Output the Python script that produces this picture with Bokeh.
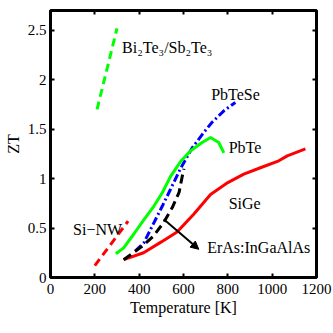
from bokeh.plotting import figure
from bokeh.models import LinearAxis, Arrow, NormalHead, Range1d, FixedTicker, ColumnDataSource
from bokeh.core.properties import value
from bokeh.embed import file_html
from bokeh.resources import INLINE

# ---- data ----
bi_T = [210, 300]
bi_ZT = [1.70, 2.52]

sinw_T = [200, 350]
sinw_ZT = [0.12, 0.57]

pbte_T = [295, 330, 376, 420, 466, 505, 541, 586, 631, 684, 722, 759, 782]
pbte_ZT = [0.24, 0.30, 0.44, 0.58, 0.72, 0.86, 1.02, 1.17, 1.28, 1.365, 1.415, 1.365, 1.26]

pbtese_T = [383, 421, 459, 504, 541, 586, 639, 691, 729, 782, 812, 834]
pbtese_ZT = [0.27, 0.35, 0.52, 0.72, 0.89, 1.10, 1.31, 1.465, 1.57, 1.685, 1.735, 1.77]

eras_T = [330, 410, 465, 510, 550, 580, 595, 602]
eras_ZT = [0.18, 0.31, 0.42, 0.555, 0.71, 0.86, 1.03, 1.10]

sige_T = [330, 420, 500, 571, 646, 722, 800, 872, 947, 1030, 1068, 1150]
sige_ZT = [0.18, 0.25, 0.36, 0.46, 0.64, 0.84, 0.96, 1.045, 1.11, 1.18, 1.23, 1.30]

arrow_T = [511, 669]
arrow_ZT = [0.59, 0.285]

label_text = ["PbTeSe", "PbTe", "SiGe", "Si\u2212NW", "ErAs:InGaAlAs"]
label_T = [725, 804, 804, 102, 707]
label_ZT = [1.854, 1.314, 0.747, 0.488, 0.302]

bi_label = ["Bi\u2082Te\u2083/Sb\u2082Te\u2083"]
bi_label_T = [323]
bi_label_ZT = [2.326]

x_ticks = [0, 200, 400, 600, 800, 1000, 1200]
y_ticks = [0, 0.5, 1, 1.5, 2, 2.5]

FONT = "Liberation Serif"

p = figure(width=333, height=333, x_range=Range1d(0, 1200), y_range=Range1d(0, 2.7),
           output_backend="svg", toolbar_location=None,
           min_border_left=50, min_border_right=17, min_border_top=10, min_border_bottom=56)
p.background_fill_color = "white"
p.border_fill_color = "white"
p.grid.visible = False
p.outline_line_color = "black"
p.outline_line_width = 3

bottom = p.xaxis[0]
left = p.yaxis[0]
top = LinearAxis()
right = LinearAxis()
p.add_layout(top, "above")
p.add_layout(right, "right")

for ax, ticks in [(bottom, x_ticks), (top, x_ticks), (left, y_ticks), (right, y_ticks)]:
    ax.ticker = FixedTicker(ticks=ticks)
    ax.major_tick_in = 4
    ax.major_tick_out = 0
    ax.major_tick_line_width = 2
    ax.major_tick_line_color = "black"
    ax.minor_tick_line_color = None
    ax.axis_line_color = None
    ax.major_label_text_font = FONT
    ax.major_label_text_font_size = "15px"
    ax.major_label_text_color = "black"

for ax in (top, right):
    ax.major_label_text_font_size = "1px"
    ax.major_label_text_color = None
    ax.major_label_standoff = 0

bottom.major_label_standoff = 6
left.major_label_standoff = 4
bottom.axis_label = "Temperature [K]"
left.axis_label = "ZT"
for ax in (bottom, left):
    ax.axis_label_text_font = FONT
    ax.axis_label_text_font_size = "16px"
    ax.axis_label_text_font_style = "normal"
    ax.axis_label_text_color = "black"
bottom.axis_label_standoff = 2
left.axis_label_standoff = 3

LW = 3
p.line(bi_T, bi_ZT, color="#00ff00", line_width=LW, line_dash="8 5")
p.line(sinw_T, sinw_ZT, color="#ff0000", line_width=LW, line_dash="8 5")
p.line(sige_T, sige_ZT, color="#ff0000", line_width=LW)
p.line(pbtese_T, pbtese_ZT, color="#0000ff", line_width=LW, line_dash="8 3 2 3")
p.line(eras_T, eras_ZT, color="black", line_width=LW, line_dash="9 5")
p.line(pbte_T, pbte_ZT, color="#00ff00", line_width=LW)

p.add_layout(Arrow(end=NormalHead(size=8, fill_color="black", line_color="black"),
                   x_start=arrow_T[0], y_start=arrow_ZT[0],
                   x_end=arrow_T[1], y_end=arrow_ZT[1],
                   line_width=2, line_color="black"))

src = ColumnDataSource(dict(x=label_T, y=label_ZT, t=label_text))
p.text(x="x", y="y", text="t", source=src, text_font=value(FONT), text_font_size="16px",
       text_align="left", text_baseline="middle", text_color="black")
p.text(x=bi_label_T, y=bi_label_ZT, text=bi_label, text_font=value(FONT), text_font_size="16px",
       text_align="left", text_baseline="alphabetic", text_color="black")

open("out.html", "w").write(file_html(p, INLINE))
